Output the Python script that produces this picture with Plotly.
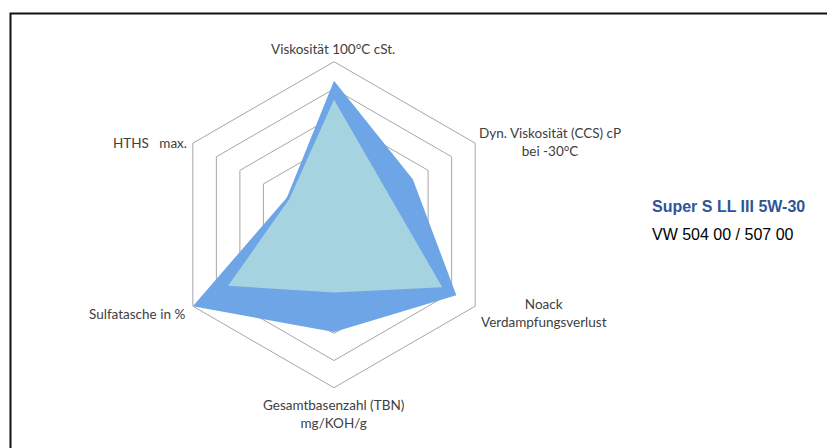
import plotly.graph_objects as go

categories = [
    "Viskosität 100°C cSt.",
    "Dyn. Viskosität (CCS) cP<br>bei -30°C",
    "Noack<br>Verdampfungsverlust",
    "Gesamtbasenzahl (TBN)<br>mg/KOH/g",
    "Sulfatasche in %",
    "HTHS\u00a0\u00a0 max.",
]
series_outer = [5.3, 3.35, 5.2, 3.95, 6.0, 2.0]
series_inner = [4.6, 2.3, 4.6, 2.5, 4.5, 1.9]
title_text = "Super S LL III 5W-30"
subtitle_text = "VW 504 00 / 507 00"

W, H = 835, 448
OFF = 8  # page body margin


def px(x, y):
    return (x - OFF) / W, 1 - (y - OFF) / H


fig = go.Figure()
fig.add_trace(go.Scatterpolar(
    r=series_outer + [series_outer[0]], theta=categories + [categories[0]],
    fill="toself", fillcolor="rgb(110,165,230)", mode="lines",
    line=dict(width=0, color="rgba(0,0,0,0)"), hoverinfo="skip", showlegend=False,
))
fig.add_trace(go.Scatterpolar(
    r=series_inner + [series_inner[0]], theta=categories + [categories[0]],
    fill="toself", fillcolor="rgb(165,211,224)", mode="lines",
    line=dict(width=0, color="rgba(0,0,0,0)"), hoverinfo="skip", showlegend=False,
))

cx, cy, R = 334, 224.7, 163
x0, y1 = px(cx - R, cy - R)
x1, y0 = px(cx + R, cy + R)

# label placements (x, center y, xanchor)
label_pos = [
    (332.5, 49, "center"),
    (550, 141.5, "center"),
    (544, 313, "center"),
    (333.5, 414, "center"),
    (187, 313.5, "right"),
    (188.5, 143.3, "right"),
]
annotations = []
for lab, (lx, ly, xa) in zip(categories, label_pos):
    ax, ay = px(lx, ly)
    annotations.append(dict(text=lab, xref="paper", yref="paper", x=ax, y=ay,
                            xanchor=xa, yanchor="middle", align="center", showarrow=False,
                            font=dict(family="Lato, Open Sans, sans-serif", size=13.5, color="#404040")))

tx, ty = px(650, 206.5)
sx, sy = px(650, 234)
annotations += [
    dict(text="<b>" + title_text + "</b>", xref="paper", yref="paper",
         x=tx, y=ty, xanchor="left", yanchor="middle",
         showarrow=False, font=dict(family="Liberation Sans, Arial", size=16, color="#2F5597")),
    dict(text=subtitle_text, xref="paper", yref="paper",
         x=sx, y=sy, xanchor="left", yanchor="middle",
         showarrow=False, font=dict(family="Liberation Sans, Arial", size=16, color="#000000")),
]

bx0, by1 = px(10.5, 13.5)
fig.update_layout(
    width=W, height=H,
    margin=dict(l=0, r=0, t=0, b=0),
    paper_bgcolor="white", plot_bgcolor="white",
    font=dict(family="Lato, Open Sans, sans-serif", size=13, color="#404040"),
    polar=dict(
        domain=dict(x=[x0, x1], y=[y0, y1]),
        gridshape="linear",
        bgcolor="white",
        radialaxis=dict(range=[0, 6], dtick=1, showticklabels=False, ticks="",
                        showline=False, gridcolor="#A6A6A6", gridwidth=1),
        angularaxis=dict(direction="clockwise", rotation=90, showgrid=False,
                         showline=True, linecolor="#A6A6A6", linewidth=1,
                         ticks="", showticklabels=False),
    ),
    shapes=[dict(type="rect", xref="paper", yref="paper",
                 x0=bx0, x1=1.02, y0=-0.02, y1=by1,
                 line=dict(color="#111111", width=2), fillcolor="rgba(0,0,0,0)")],
    annotations=annotations,
)

fig.write_html("out.html")
